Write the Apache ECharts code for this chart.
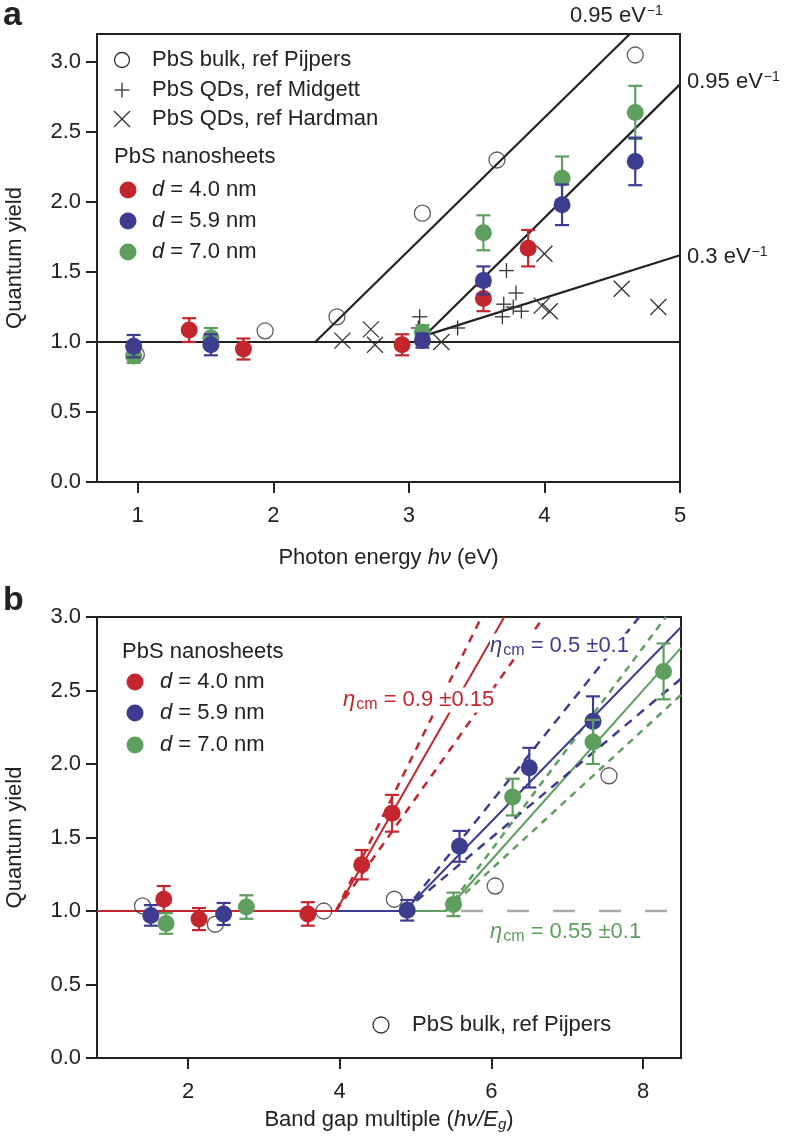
<!DOCTYPE html>
<html><head><meta charset="utf-8">
<script src="https://cdn.jsdelivr.net/npm/echarts@6/dist/echarts.min.js"></script>
<style>html,body{margin:0;padding:0;background:#fff}#c{width:786px;height:1139px}</style>
</head><body><div id="c"></div>
<script>
// ---------- tick values ----------
const xTicksA = [1, 2, 3, 4, 5];
const yTicksA = [0, 0.5, 1, 1.5, 2, 2.5, 3];
const xTicksB = [2, 4, 6, 8];
const yTicksB = [0, 0.5, 1, 1.5, 2, 2.5, 3];

// ---------- panel a : photon energy (eV) ----------
const bulkA_x = [0.99, 1.94, 2.47, 3.10, 3.65, 4.67];
const bulkA_y = [0.91, 1.08, 1.18, 1.92, 2.30, 3.05];
const midgett_x = [3.07, 3.08, 3.36, 3.69, 3.70, 3.72, 3.77, 3.79, 3.83];
const midgett_y = [1.10, 1.18, 1.10, 1.18, 1.27, 1.51, 1.25, 1.35, 1.22];
const hardman_x = [2.51, 2.72, 2.75, 3.24, 3.98, 4.00, 4.04, 4.57, 4.84];
const hardman_y = [1.01, 1.09, 0.98, 1.00, 1.26, 1.63, 1.22, 1.38, 1.25];

const redA_x = [1.38, 1.78, 2.95, 3.55, 3.88];
const redA_y = [1.085, 0.95, 0.98, 1.31, 1.67];
const redA_e = [0.085, 0.075, 0.075, 0.09, 0.13];
const blueA_x = [0.97, 1.54, 3.10, 3.55, 4.13, 4.67];
const blueA_y = [0.97, 0.98, 1.01, 1.44, 1.98, 2.29];
const blueA_e = [0.08, 0.075, 0.05, 0.10, 0.145, 0.17];
const greenA_x = [0.97, 1.54, 3.10, 3.55, 4.13, 4.67];
const greenA_y = [0.90, 1.03, 1.07, 1.78, 2.17, 2.64];
const greenA_e = [0.05, 0.07, 0.05, 0.125, 0.155, 0.19];

// reference lines in panel a (endpoints, data space)
const unityA = [[0.7, 1.0], [5.0, 1.0]];
const fitBulkA = [[2.31, 1.0], [4.63, 3.2]];
const fitQD95A = [[3.07, 1.0], [5.0, 2.84]];
const fitQD30A = [[3.10, 1.04], [5.0, 1.62]];

// ---------- panel b : band gap multiple ----------
const bulkB_x = [1.40, 2.36, 3.79, 4.72, 6.05, 7.55];
const bulkB_y = [1.035, 0.91, 1.00, 1.08, 1.17, 1.92];
const redB_x = [1.68, 2.145, 3.58, 4.29, 4.69];
const redB_y = [1.08, 0.945, 0.98, 1.315, 1.665];
const redB_e = [0.09, 0.075, 0.08, 0.10, 0.125];
const blueB_x = [1.51, 2.47, 4.89, 5.58, 6.50, 7.34];
const blueB_y = [0.97, 0.98, 1.005, 1.44, 1.975, 2.29];
const blueB_e = [0.07, 0.075, 0.07, 0.105, 0.135, 0.17];
const greenB_x = [1.71, 2.77, 5.50, 6.28, 7.34, 8.27];
const greenB_y = [0.915, 1.027, 1.045, 1.775, 2.15, 2.63];
const greenB_e = [0.07, 0.08, 0.08, 0.125, 0.15, 0.19];

const redFitB = [[0.8, 1.0], [3.95, 1.0], [6.17, 3.0]];
const redFitHiB = [[3.95, 1.0], [5.87, 3.0]];
const redFitLoB = [[3.95, 1.0], [6.69, 3.0]];
const blueFitB = [[3.95, 1.0], [4.85, 1.0], [8.5, 2.93]];
const blueFitHiB = [[4.85, 1.0], [7.95, 3.0]];
const blueFitLoB = [[4.85, 1.0], [8.5, 2.58]];
const greenFitB = [[4.85, 1.0], [5.40, 1.0], [8.5, 2.79]];
const greenFitHiB = [[5.40, 1.0], [8.3, 3.0]];
const greenFitLoB = [[5.40, 1.0], [8.5, 2.47]];
const unityDashB = [[5.6, 1.0], [8.5, 1.0]];

// ---------- styles ----------
const FONT = "'Liberation Sans', Arial, Helvetica, sans-serif";
const RED = '#c4262e', BLUE = '#3d3d8f', GREEN = '#5e9e5e', INK = '#222';
const FS = 22;

const zip = (xs, ys) => xs.map((x, i) => [x, ys[i]]);
const zip3 = (xs, ys, es) => xs.map((x, i) => [x, ys[i], es[i]]);

function lineSeries(data, color, width, type, xi, z) {
  return { type: 'line', xAxisIndex: xi, yAxisIndex: xi, data, showSymbol: false, silent: true,
    animation: false, z: z || 2, lineStyle: { color, width, type: type || 'solid' } };
}
function errSeries(data, color, xi, z) {
  return { type: 'custom', xAxisIndex: xi, yAxisIndex: xi, data, encode: { x: 0, y: 1 }, silent: true, z: z,
    animation: false,
    renderItem: function (params, api) {
      const x = api.value(0), y = api.value(1), e = api.value(2);
      const t = api.coord([x, y + e]), b = api.coord([x, y - e]);
      const cw = 7, st = { stroke: color, lineWidth: 2.2 };
      return { type: 'group', children: [
        { type: 'line', shape: { x1: t[0], y1: t[1], x2: b[0], y2: b[1] }, style: st },
        { type: 'line', shape: { x1: t[0] - cw, y1: t[1], x2: t[0] + cw, y2: t[1] }, style: st },
        { type: 'line', shape: { x1: b[0] - cw, y1: b[1], x2: b[0] + cw, y2: b[1] }, style: st }
      ] };
    } };
}
function dotSeries(data, color, xi, z) {
  return { type: 'scatter', xAxisIndex: xi, yAxisIndex: xi, data, symbol: 'circle', symbolSize: 17,
    silent: true, animation: false, z: z, itemStyle: { color: color, opacity: 1 } };
}
function openSeries(data, xi) {
  return { type: 'scatter', xAxisIndex: xi, yAxisIndex: xi, data, symbol: 'circle', symbolSize: 16,
    silent: true, animation: false, z: 8,
    itemStyle: { color: 'rgba(255,255,255,0)', borderColor: '#333', borderWidth: 1.3 } };
}
function crossSeries(data, kind, xi) {
  return { type: 'custom', xAxisIndex: xi, yAxisIndex: xi, data, encode: { x: 0, y: 1 }, silent: true, z: 8,
    animation: false,
    renderItem: function (params, api) {
      const p = api.coord([api.value(0), api.value(1)]);
      const st = { stroke: '#333', lineWidth: 1.3 };
      if (kind === 'plus') {
        const s = 7.5;
        return { type: 'group', children: [
          { type: 'line', shape: { x1: p[0] - s, y1: p[1], x2: p[0] + s, y2: p[1] }, style: st },
          { type: 'line', shape: { x1: p[0], y1: p[1] - s, x2: p[0], y2: p[1] + s }, style: st }] };
      }
      const s = 8;
      return { type: 'group', children: [
        { type: 'line', shape: { x1: p[0] - s, y1: p[1] - s, x2: p[0] + s, y2: p[1] + s }, style: st },
        { type: 'line', shape: { x1: p[0] - s, y1: p[1] + s, x2: p[0] + s, y2: p[1] - s }, style: st }] };
    } };
}

const RICH = {
  n: { fontFamily: FONT, fontSize: FS, color: INK },
  i: { fontFamily: FONT, fontSize: FS, color: INK, fontStyle: 'italic' },
  isub: { fontFamily: FONT, fontSize: 15, color: INK, fontStyle: 'italic', padding: [9, 0, 0, 0] }
};

function xAxis(gi, min, max, ticks, name, gap) {
  return { type: 'value', gridIndex: gi, min, max, name, nameLocation: 'middle', nameGap: gap,
    nameTextStyle: { fontFamily: FONT, fontSize: FS, color: INK, rich: RICH },
    axisLine: { onZero: false, lineStyle: { color: INK, width: 2 } },
    axisTick: { show: true, inside: false, length: 11, customValues: ticks, lineStyle: { color: INK, width: 2 } },
    axisLabel: { customValues: ticks, margin: 23, fontFamily: FONT, fontSize: FS, color: INK,
      formatter: v => String(v) },
    splitLine: { show: false } };
}
function yAxis(gi, min, max, ticks, gap) {
  return { type: 'value', gridIndex: gi, min, max, name: 'Quantum yield', nameLocation: 'middle', nameGap: gap,
    nameRotate: 90, nameTextStyle: { fontFamily: FONT, fontSize: FS, color: INK },
    axisLine: { onZero: false, lineStyle: { color: INK, width: 2 } },
    axisTick: { show: true, inside: false, length: 11, customValues: ticks, lineStyle: { color: INK, width: 2 } },
    axisLabel: { customValues: ticks, margin: 16, fontFamily: FONT, fontSize: FS, color: INK,
      formatter: v => v.toFixed(1) },
    splitLine: { show: false } };
}

function txt(x, y, text, opts) {
  return Object.assign({ type: 'text', x, y, silent: true, z: 50,
    style: Object.assign({ text, fontFamily: FONT, fontSize: FS, fill: INK, textVerticalAlign: 'middle' }, opts || {}) });
}
function richTxt(x, y, text, color, bg) {
  return { type: 'text', x, y, silent: true, z: 50,
    style: { text, textVerticalAlign: 'middle', backgroundColor: bg || 'transparent', fill: color,
      rich: {
        n: { fontFamily: FONT, fontSize: FS, fill: color },
        i: { fontFamily: FONT, fontSize: FS, fill: color, fontStyle: 'italic' },
        sub: { fontFamily: FONT, fontSize: 16, fill: color, padding: [9, 0, 0, 1] },
        sup: { fontFamily: FONT, fontSize: 14, fill: color, padding: [0, 0, 9, 1] }
      } } };
}
function circ(cx, cy, r, fill, stroke) {
  return { type: 'circle', silent: true, z: 50, shape: { cx, cy, r },
    style: { fill: fill, stroke: stroke || null, lineWidth: 1.3 } };
}
function seg(x1, y1, x2, y2) {
  return { type: 'line', silent: true, z: 50, shape: { x1, y1, x2, y2 }, style: { stroke: '#333', lineWidth: 1.3 } };
}

const graphic = [
  txt(3, 16, 'a', { fontSize: 34, fontWeight: 'bold' }),
  txt(3, 601, 'b', { fontSize: 34, fontWeight: 'bold' }),
  // legend panel a
  circ(122, 60, 7.5, 'rgba(0,0,0,0)', '#333'),
  txt(152, 60, 'PbS bulk, ref Pijpers'),
  seg(114.5, 90, 129.5, 90), seg(122, 82.5, 122, 97.5),
  txt(152, 90, 'PbS QDs, ref Midgett'),
  seg(114, 111, 130, 127), seg(114, 127, 130, 111),
  txt(152, 119, 'PbS QDs, ref Hardman'),
  txt(114, 157, 'PbS nanosheets'),
  circ(128, 190, 8.5, RED), circ(128, 221, 8.5, BLUE), circ(128, 252, 8.5, GREEN),
  richTxt(152, 190, '{i|d}{n| = 4.0 nm}', INK),
  richTxt(152, 221, '{i|d}{n| = 5.9 nm}', INK),
  richTxt(152, 252, '{i|d}{n| = 7.0 nm}', INK),
  // slope labels panel a
  richTxt(570, 16, '{n|0.95 eV}{sup|−1}', INK),
  richTxt(687, 82, '{n|0.95 eV}{sup|−1}', INK),
  richTxt(687, 257, '{n|0.3 eV}{sup|−1}', INK),
  // legend panel b
  txt(122, 652, 'PbS nanosheets'),
  circ(135, 682, 8.5, RED), circ(135, 713, 8.5, BLUE), circ(135, 745, 8.5, GREEN),
  richTxt(160, 682, '{i|d}{n| = 4.0 nm}', INK),
  richTxt(160, 713, '{i|d}{n| = 5.9 nm}', INK),
  richTxt(160, 745, '{i|d}{n| = 7.0 nm}', INK),
  circ(381, 1025, 8, 'rgba(0,0,0,0)', '#333'),
  txt(412, 1025, 'PbS bulk, ref Pijpers'),
  // efficiency labels panel b
  richTxt(343, 700, '{i|η}{sub|cm}{n| = 0.9 ±0.15}', RED, '#fff'),
  richTxt(490, 646, '{i|η}{sub|cm}{n| = 0.5 ±0.1}', BLUE, '#fff'),
  richTxt(490, 932, '{i|η}{sub|cm}{n| = 0.55 ±0.1}', GREEN, '#fff')
];

const option = {
  backgroundColor: '#fff',
  animation: false,
  grid: [
    { left: 97, top: 34, width: 583, height: 448, show: true, borderColor: INK, borderWidth: 2,
      backgroundColor: 'transparent', containLabel: false, outerBoundsMode: 'none' },
    { left: 97, top: 617, width: 584, height: 441, show: true, borderColor: INK, borderWidth: 2,
      backgroundColor: 'transparent', containLabel: false, outerBoundsMode: 'none' }
  ],
  xAxis: [
    xAxis(0, 0.7, 5.0, xTicksA, '{n|Photon energy }{i|hν}{n| (eV)}', 65),
    xAxis(1, 0.8, 8.5, xTicksB, '{n|Band gap multiple (}{i|hν/E}{isub|g}{n|)}', 50)
  ],
  yAxis: [
    yAxis(0, 0, 3.2, yTicksA, 71),
    yAxis(1, 0, 3.0, yTicksB, 71)
  ],
  graphic: graphic,
  series: [
    // panel a lines
    lineSeries(unityA, INK, 2.2, 'solid', 0),
    lineSeries(fitBulkA, INK, 2.2, 'solid', 0),
    lineSeries(fitQD95A, INK, 2.2, 'solid', 0),
    lineSeries(fitQD30A, INK, 2.2, 'solid', 0),
    // panel a points
    openSeries(zip(bulkA_x, bulkA_y), 0),
    crossSeries(zip(midgett_x, midgett_y), 'plus', 0),
    crossSeries(zip(hardman_x, hardman_y), 'x', 0),
    errSeries(zip3(greenA_x, greenA_y, greenA_e), GREEN, 0, 10),
    dotSeries(zip(greenA_x, greenA_y), GREEN, 0, 11),
    errSeries(zip3(redA_x, redA_y, redA_e), RED, 0, 12),
    dotSeries(zip(redA_x, redA_y), RED, 0, 13),
    errSeries(zip3(blueA_x, blueA_y, blueA_e), BLUE, 0, 14),
    dotSeries(zip(blueA_x, blueA_y), BLUE, 0, 15),
    // panel b lines
    lineSeries(unityDashB, '#aaaaaa', 2.5, [22, 24], 1),
    lineSeries(greenFitB, GREEN, 2, 'solid', 1),
    lineSeries(greenFitHiB, GREEN, 2.5, [7, 6], 1),
    lineSeries(greenFitLoB, GREEN, 2.5, [7, 6], 1),
    lineSeries(blueFitB, BLUE, 2, 'solid', 1),
    lineSeries(blueFitHiB, BLUE, 2.5, [9, 7], 1),
    lineSeries(blueFitLoB, BLUE, 2.5, [9, 7], 1),
    lineSeries(redFitB, RED, 2, 'solid', 1),
    lineSeries(redFitHiB, RED, 2.5, [8, 7], 1),
    lineSeries(redFitLoB, RED, 2.5, [8, 7], 1),
    // panel b points
    openSeries(zip(bulkB_x, bulkB_y), 1),
    errSeries(zip3(redB_x, redB_y, redB_e), RED, 1, 10),
    dotSeries(zip(redB_x, redB_y), RED, 1, 11),
    errSeries(zip3(blueB_x, blueB_y, blueB_e), BLUE, 1, 12),
    dotSeries(zip(blueB_x, blueB_y), BLUE, 1, 13),
    errSeries(zip3(greenB_x, greenB_y, greenB_e), GREEN, 1, 14),
    dotSeries(zip(greenB_x, greenB_y), GREEN, 1, 15)
  ]
};
const chart = echarts.init(document.getElementById('c'), null, { renderer: 'canvas' });
chart.setOption(option);
</script></body></html>
